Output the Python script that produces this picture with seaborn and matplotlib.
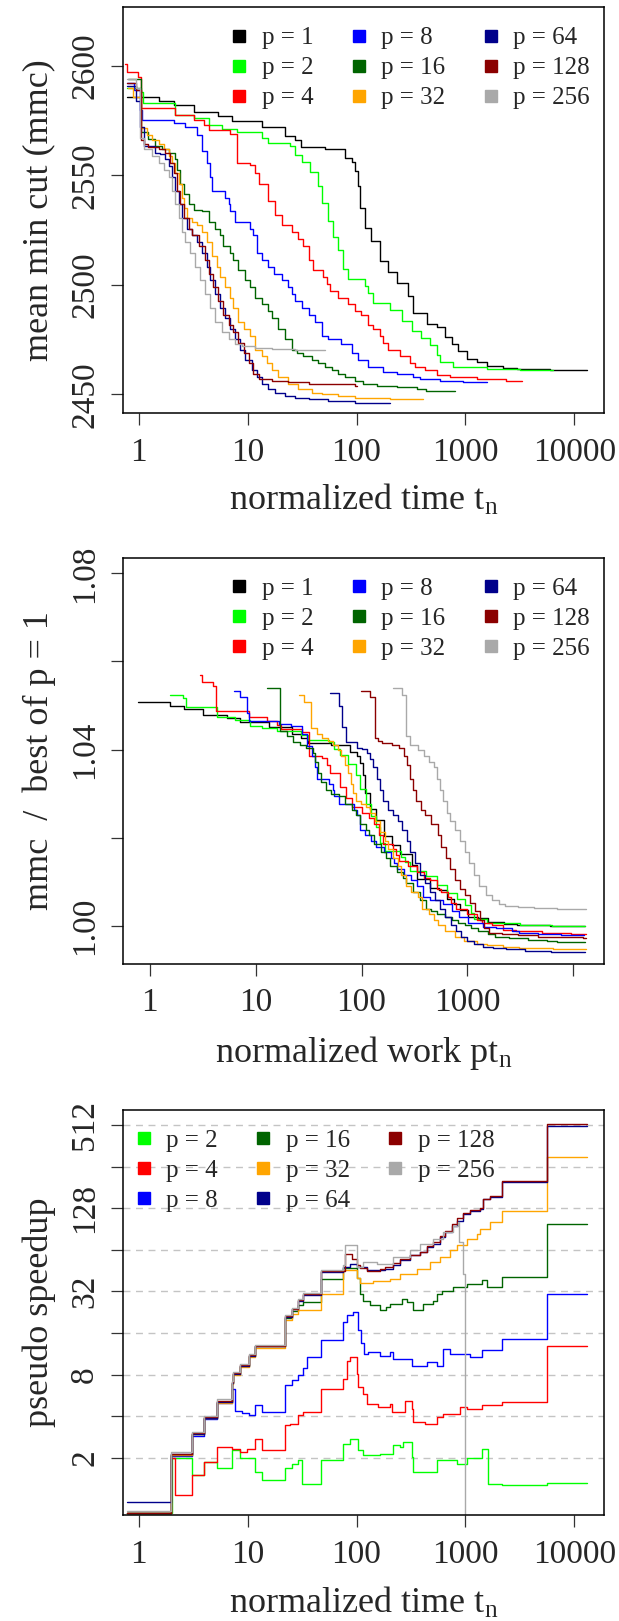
import matplotlib
matplotlib.use("Agg")
import numpy as np
import pandas as pd
import matplotlib.pyplot as plt
import seaborn as sns
from matplotlib.lines import Line2D
from matplotlib.ticker import NullLocator

sns.set_style("white")
plt.rcParams['font.family'] = ['Liberation Serif', 'DejaVu Serif']
plt.rcParams['mathtext.fontset'] = 'custom'
plt.rcParams['mathtext.rm'] = 'Liberation Serif'
plt.rcParams['mathtext.it'] = 'Liberation Serif:italic'

# ---------------------------------------------------------------------------
# panel 1 : mean min cut over normalized time, one step curve per p
procs = [1, 2, 4, 8, 16, 32, 64, 128, 256]
colors = {1: 'black', 2: '#00FF00', 4: '#FF0000', 8: '#0000FF', 16: '#006400',
          32: '#FFA500', 64: '#00008B', 128: '#8B0000', 256: '#A9A9A9'}

t_p1 = [0.78, 1.55, 2.1, 3.2, 5.4, 7.2, 13.5, 22, 27, 31, 51, 78, 90, 96, 103, 107, 119, 137,
        164, 195, 233, 299, 332, 440, 544, 648, 747, 860, 1024, 1267, 1564, 2226, 2952, 5976, 12970]
mmc_p1 = [2586, 2584, 2582, 2579, 2577, 2575, 2572, 2568, 2566, 2563, 2562, 2558, 2556, 2552, 2545, 2535,
          2526, 2520, 2511, 2506, 2501, 2495, 2487, 2482, 2481, 2476, 2473, 2470, 2466, 2465, 2463,
          2462, 2461.5, 2461, 2461]
t_p2 = [0.78, 1.04, 1.1, 2.17, 3.19, 4.38, 5.8, 7.96, 13.5, 15.5, 24.5, 27.2, 31.3, 37.4, 44.6, 47.9,
        55, 61, 68, 75, 84, 119, 128, 142, 202, 259, 320, 395, 472, 544, 583, 773, 1564, 3162, 6412]
mmc_p2 = [2590, 2588, 2583, 2577.6, 2576, 2572.8, 2571.3, 2569.7, 2567.3, 2564.9, 2563.4, 2559.5,
          2556.3, 2551.6, 2545.3, 2537.4, 2529, 2522, 2516, 2507.4, 2502.7, 2499.6, 2496.4, 2491.6,
          2488.5, 2483.7, 2479, 2475.9, 2472.7, 2468, 2464.8, 2462.4, 2461.5, 2461, 2461]
t_p4 = [0.75, 0.78, 0.99, 1.05, 2.17, 3.19, 3.94, 4.38, 6.92, 7.96, 10.6, 11.7, 12.6, 15.5, 17.9, 20.5,
        25.3, 29.2, 32.6, 36.3, 40.1, 49.6, 53.2, 57.1, 68.1, 84.2, 96.9, 111, 128, 142, 164, 176, 195,
        250, 309, 343, 424, 544, 719, 1267, 2383, 3291]
mmc_p4 = [2601, 2597, 2595, 2581, 2577.8, 2575.4, 2573, 2570.7, 2569.1, 2555.7, 2554.9, 2550.9, 2546.2,
          2538.4, 2532.1, 2527.3, 2524.2, 2521, 2517.9, 2511.6, 2506.8, 2503.7, 2500.5, 2497.4, 2494.2,
          2491.1, 2487.9, 2486.3, 2481.6, 2480, 2476.9, 2473.7, 2470.5, 2467.4, 2464.2, 2462.7, 2461.1,
          2458.7, 2457.9, 2457.1, 2456.3, 2456.3]
t_p8 = [0.78, 0.9, 1.03, 1.08, 2.09, 2.68, 3.42, 3.8, 4.23, 4.53, 4.7, 6.22, 6.68, 6.92, 7.69, 10.6,
        11.3, 12.1, 13.5, 15.5, 17.3, 20.5, 23.7, 25.3, 27.2, 31.3, 36.3, 41.5, 47.9, 55.2, 72.8, 90,
        103, 128, 176, 233, 332, 383, 584, 955, 1564]
mmc_p8 = [2592, 2589, 2580, 2575.4, 2573.9, 2572.3, 2568.3, 2561.2, 2555.7, 2549.4, 2543.1, 2539.9,
          2536.8, 2533.6, 2528.9, 2525.7, 2522.6, 2514.7, 2511.6, 2508.4, 2505.2, 2502.1, 2498.9,
          2495.8, 2492.6, 2489.5, 2486.3, 2483.2, 2476.9, 2475.3, 2472.9, 2469, 2465.8, 2462.7,
          2460.3, 2459.5, 2457.9, 2457.1, 2456.3, 2455.6, 2455.6]
t_p16 = [0.8, 1.06, 1.23, 1.42, 1.64, 1.88, 2.17, 2.25, 2.41, 2.58, 2.87, 3.19, 3.8, 4.38, 5.04, 5.6,
         6.0, 6.92, 7.42, 8.24, 9.5, 10.6, 11.7, 13.5, 15.5, 16.6, 19.2, 22.1, 25.3, 28.2, 32.6, 38.7,
         44.6, 51.3, 59, 68, 78, 97, 115, 153, 233, 356, 439, 800]
mmc_p16 = [2594, 2569.9, 2566.8, 2563.6, 2562, 2560.4, 2557.3, 2552.6, 2546.3, 2541.5, 2536.8, 2534.4,
           2533.6, 2528.9, 2525.7, 2522.6, 2517.9, 2514.7, 2511.6, 2506.8, 2502.1, 2498.9, 2494.2,
           2491.1, 2487.9, 2484.7, 2480, 2475.3, 2470.5, 2469, 2467.4, 2465.8, 2464.2, 2462.7, 2461.1,
           2459.5, 2457.9, 2456.3, 2454.8, 2454, 2453.2, 2452.4, 2451.6, 2451.6]
t_p32 = [0.8, 0.89, 1.05, 1.19, 1.33, 1.52, 1.69, 1.88, 2.02, 2.17, 2.32, 2.49, 2.58, 2.77, 3.08, 3.42,
         3.8, 4.23, 4.7, 5.22, 5.6, 6.22, 6.92, 7.42, 8.24, 9.17, 10.6, 11.7, 13.5, 15, 16.6, 19.2,
         23.7, 29.2, 38.7, 47.9, 68, 97, 202, 410]
mmc_p32 = [2590, 2586, 2571.5, 2568.3, 2566, 2564.4, 2562, 2558.9, 2555.7, 2551, 2546.3, 2539.9,
           2535.2, 2530.5, 2528.9, 2527.3, 2524.2, 2519.4, 2513.1, 2508.4, 2503.7, 2498.9, 2494.2,
           2489.5, 2483.2, 2480, 2476.9, 2470.5, 2467.4, 2464.2, 2461.1, 2457.9, 2454.8, 2452.4,
           2450.8, 2450, 2449.3, 2448.5, 2447.7, 2447.7]
t_p64 = [0.78, 0.95, 1.03, 1.11, 1.42, 1.58, 1.75, 1.88, 2.02, 2.17, 2.32, 2.49, 2.77, 3.08, 3.42, 3.8,
         4.23, 4.53, 5.04, 5.6, 6.22, 6.92, 7.69, 8.54, 9.5, 10.9, 12.1, 13.5, 15.5, 17.9, 22.1, 27.2,
         36.3, 55.2, 96.9, 202]
mmc_p64 = [2591, 2584, 2572, 2563.6, 2560.4, 2559.7, 2557.3, 2554.1, 2549.4, 2543.1, 2536.8, 2530.5,
           2525.7, 2522.6, 2519.4, 2514.7, 2508.4, 2502.1, 2495.8, 2489.5, 2484.7, 2480, 2475.3,
           2470.5, 2465.8, 2461.1, 2457.9, 2454.8, 2452.4, 2450.8, 2449.3, 2448.5, 2447.7, 2446.9,
           2446.1, 2446.1]
t_p128 = [0.78, 0.95, 1.04, 1.11, 1.23, 1.52, 1.75, 1.95, 2.09, 2.25, 2.41, 2.58, 2.87, 3.08, 3.55,
          4.08, 4.38, 4.86, 5.4, 6.0, 6.68, 7.42, 8.24, 9.17, 10.2, 11.3, 12.6, 16.6, 23.7, 36.3, 96.9,
          102]
mmc_p128 = [2592, 2589, 2566, 2564.4, 2562.8, 2562, 2560.4, 2555.7, 2551, 2543.1, 2536.8, 2530.5,
            2525.7, 2522.6, 2517.9, 2511.6, 2505.2, 2498.9, 2492.6, 2486.3, 2481.6, 2478.4, 2473.7,
            2469, 2464.2, 2459.5, 2457.1, 2456.3, 2455.6, 2454.8, 2454, 2454]
t_p256 = [0.78, 0.95, 1.035, 1.11, 1.33, 1.52, 1.69, 1.88, 2.02, 2.17, 2.32, 2.49, 2.68, 2.97, 3.3,
          3.67, 4.08, 4.53, 5.04, 5.8, 6.68, 7.69, 8.85, 11.7, 16.6, 27.2, 51.3]
mmc_p256 = [2594, 2590, 2567, 2562, 2558.9, 2555.7, 2552.6, 2549.4, 2543.1, 2536.8, 2530.5, 2524.2,
            2519.4, 2514.7, 2508.4, 2502.1, 2495.8, 2489.5, 2483.2, 2478.4, 2475.3, 2472.9, 2472.1,
            2471.3, 2470.9, 2470.2, 2470.2]

# ---------------------------------------------------------------------------
# panel 3 : pseudo speedup over normalized time (p = 2 .. 256)
t_s2 = [0.78, 2.02, 3.08, 3.94, 5.22, 7.16, 8.54, 11.7, 13.5, 22.1, 25.4, 29.2, 31.3, 47.7, 75.3, 87,
        103, 115, 164, 217, 250, 268, 320, 332, 544, 830, 1024, 1408, 1619, 2148, 5572, 12970]
sp_s2 = [0.8, 1.98, 1.5, 1.87, 1.68, 2.27, 2.0, 1.58, 1.38, 1.68, 1.82, 1.93, 1.3, 1.92, 2.54, 2.76,
         2.27, 2.09, 2.15, 2.47, 2.4, 2.61, 2.03, 1.58, 1.93, 1.82, 1.98, 2.3, 1.3, 1.27, 1.32, 1.32]
t_s4 = [0.78, 2.0, 2.17, 3.08, 3.94, 5.22, 7.16, 8.54, 9.8, 11.7, 13.5, 22.1, 24.5, 29.2, 32.4, 47.7,
        75.3, 82, 88, 100, 104, 115, 124, 158, 202, 210, 278, 320, 332, 424, 544, 625, 889, 1024, 1408,
        2148, 5572, 12970]
sp_s4 = [0.8, 2.0, 1.07, 1.5, 1.87, 2.4, 2.33, 2.2, 2.33, 2.76, 2.27, 3.44, 3.54, 4.07, 4.3, 6.34,
         7.5, 10.0, 10.7, 8.1, 6.5, 5.83, 4.94, 4.67, 4.94, 4.3, 5.2, 4.54, 3.64, 3.54, 3.96, 4.18,
         4.67, 4.54, 4.8, 5.08, 13.0, 13.0]
t_s8 = [0.78, 2.0, 3.08, 3.94, 5.22, 7.16, 7.7, 8.9, 10.2, 11.7, 13.5, 22.1, 25.4, 29.2, 32.4, 35,
        47.7, 75.4, 81, 93, 103, 110, 118, 128, 164, 202, 217, 320, 440, 544, 625, 719, 1100, 1408,
        2148, 5572, 12970]
sp_s8 = [0.8, 2.05, 2.9, 3.8, 5.0, 6.3, 4.4, 4.2, 4.1, 4.8, 4.3, 6.7, 7.3, 8.0, 9.0, 10.8, 14.2,
         19.2, 21.5, 22.7, 16.7, 13.5, 11.3, 11.7, 11.0, 11.7, 10.4, 9.3, 9.9, 9.3, 12.3, 11.3, 10.7,
         12.0, 14.6, 30.8, 30.8]
t_s16 = [0.78, 2.0, 3.08, 3.94, 5.22, 7.16, 7.42, 8.54, 10.2, 11.7, 22.1, 25.4, 29.2, 32.4, 47.7, 75.3,
         100, 107, 115, 133, 164, 188, 202, 259, 288, 332, 410, 506, 544, 604, 773, 1024, 1408, 1564,
         2148, 5572, 12970]
sp_s16 = [0.8, 2.1, 3.0, 3.9, 5.1, 7.0, 8.1, 9.3, 11.0, 12.9, 20.6, 23.0, 25.5, 26.8, 39.5, 47, 40,
          30.8, 27.5, 25.4, 23.3, 24.5, 26.1, 28.3, 26.8, 23.3, 26.1, 27.5, 30.8, 32.5, 34.4, 36.3,
          38.4, 34.4, 40.6, 98.6, 98.6]
t_s32 = [0.78, 2.0, 3.08, 3.94, 5.22, 7.16, 7.42, 8.54, 10.2, 11.7, 22.1, 25.4, 29.2, 47.7, 75.3, 100,
         107, 142, 202, 250, 356, 472, 583, 719, 830, 1024, 1267, 1358, 1679, 2148, 5572, 12970]
sp_s32 = [0.8, 2.1, 3.0, 3.9, 5.0, 6.9, 7.9, 9.1, 10.8, 12.4, 19.8, 22.0, 23.3, 30.8, 46, 40, 37, 38,
          39.5, 42.9, 46.6, 52, 56.6, 63.3, 68.8, 76.9, 84, 90, 101, 123, 302, 302]
t_s64 = [0.78, 1.58, 2.0, 3.08, 3.94, 5.22, 7.16, 7.42, 8.54, 10.2, 11.7, 22.1, 25.4, 29.2, 32.4, 47.7,
         75.3, 86.9, 100, 124, 182, 217, 250, 309, 382, 440, 506, 583, 648, 747, 830, 955, 1100, 1358,
         1458, 1679, 2148, 5572, 12970]
sp_s64 = [0.96, 0.96, 2.15, 3.0, 3.9, 5.1, 7.0, 8.1, 9.3, 11.0, 12.9, 20.9, 23.7, 27.5, 30.3, 44.1,
          48, 50.7, 48, 45.4, 46.6, 49.4, 53.6, 58.3, 61.6, 66.9, 70.7, 79, 85.9, 95.9, 104, 116.5,
          123, 126.6, 149.5, 155.4, 197, 506, 506]
t_s128 = [0.78, 2.0, 3.08, 3.94, 5.22, 7.16, 7.42, 8.54, 10.2, 11.7, 22.1, 25.4, 29.2, 32.4, 47.7,
          78.3, 90, 100, 107, 124, 164, 182, 217, 250, 309, 382, 440, 506, 583, 648, 747, 830, 955,
          1100, 1358, 1458, 1679, 2148, 5572, 12970]
sp_s128 = [0.8, 2.15, 3.05, 3.95, 5.2, 7.1, 8.2, 9.4, 11.1, 13.0, 21.2, 24.0, 27.8, 30.8, 45, 60, 55,
           50, 47, 45, 46.5, 48, 51, 55, 59, 62, 68, 73, 81, 88, 98, 108, 118, 125, 129, 150, 156, 200,
           520, 520]
t_s256 = [0.78, 2.0, 3.08, 3.94, 5.22, 7.16, 7.42, 8.54, 10.2, 11.7, 22.1, 25.4, 29.2, 32.4, 47.7,
          75.3, 78.3, 100, 115, 153, 217, 309, 382, 506, 625, 772, 859, 877, 955, 994]
sp_s256 = [0.82, 2.2, 3.1, 4.0, 5.3, 7.2, 8.3, 9.5, 11.2, 13.2, 21.5, 24.3, 28.2, 31.3, 45.5, 50,
           68.8, 48, 52.1, 50.7, 56.6, 63.3, 70.7, 76.9, 85.9, 95.9, 101, 72.7, 42.9, 0.3]

t_cols = [t_p1, t_p2, t_p4, t_p8, t_p16, t_p32, t_p64, t_p128, t_p256]
mmc_cols = [mmc_p1, mmc_p2, mmc_p4, mmc_p8, mmc_p16, mmc_p32, mmc_p64, mmc_p128, mmc_p256]
sp_t_cols = [t_s2, t_s4, t_s8, t_s16, t_s32, t_s64, t_s128, t_s256]
sp_cols = [sp_s2, sp_s4, sp_s8, sp_s16, sp_s32, sp_s64, sp_s128, sp_s256]

frames = []
for p, t, m in zip(procs, t_cols, mmc_cols):
    frames.append(pd.DataFrame({'t': t, 'mmc': m, 'p': p, 'label': f'p = {p}'}))
df1 = pd.concat(frames, ignore_index=True)
# second panel: work = p * t, quality relative to the best cut of p = 1
best1 = min(mmc_p1)
df1['work'] = df1['t'] * df1['p']
df1['ratio'] = df1['mmc'] / best1

frames = []
for p, t, s in zip(procs[1:], sp_t_cols, sp_cols):
    frames.append(pd.DataFrame({'t': t, 'speedup': s, 'p': p, 'label': f'p = {p}'}))
df3 = pd.concat(frames, ignore_index=True)

pal = {f'p = {p}': colors[p] for p in procs}

# ---------------------------------------------------------------------------
fig = plt.figure(figsize=(6.19, 16.21), dpi=100)
L, W, H = 0.1979, 0.7779, 0.2502
ax1 = fig.add_axes([L, 0.7452, W, H])
ax2 = fig.add_axes([L, 0.4056, W, H])
ax3 = fig.add_axes([L, 0.0651, W, H])

TICK = 24
LAB = 26


def style(ax):
    ax.xaxis.set_minor_locator(NullLocator())
    ax.yaxis.set_minor_locator(NullLocator())
    for s in ax.spines.values():
        s.set_color('black')
        s.set_linewidth(1.1)
    ax.tick_params(axis='both', direction='out', length=8.6, width=0.9, color='#333333',
                   labelsize=TICK, bottom=True, left=True, top=False, right=False)
    ax.tick_params(axis='x', pad=9)
    ax.tick_params(axis='y', pad=7.5, labelrotation=90)
    for lab in ax.get_yticklabels():
        lab.set_va('center')


def add_legend(ax, ps, x0):
    handles = [Line2D([], [], linestyle='none', marker='s', markersize=8.5,
                      markerfacecolor=colors[p], markeredgecolor=colors[p]) for p in ps]
    ax.legend(handles, [f'p = {p}' for p in ps], ncol=3, loc='upper left',
              bbox_to_anchor=(x0, 0.952), frameon=False, fontsize=18, handlelength=0.8,
              handletextpad=0.51, columnspacing=1.4, labelspacing=0.3, borderpad=0,
              borderaxespad=0)


kw = dict(estimator=None, sort=False, drawstyle='steps-post', linewidth=1.0, legend=False,
          hue='label', hue_order=[f'p = {p}' for p in procs], palette=pal)

# panel 1
ax1.set_xscale('log')
sns.lineplot(data=df1, x='t', y='mmc', ax=ax1, **kw)
ax1.set_xlim(0.710, 18740)
ax1.set_ylim(2441.5, 2626.7)
ax1.set_xticks([1, 10, 100, 1000, 10000], ['1', '10', '100', '1000', '10000'])
ax1.set_yticks([2450, 2500, 2550, 2600], ['2450', '2500', '2550', '2600'])
style(ax1)
ax1.set_xlabel(r'normalized time t$_\mathrm{n}$', fontsize=LAB, labelpad=11)
ax1.set_ylabel('mean min cut (mmc)', fontsize=LAB, labelpad=10)
add_legend(ax1, procs, 0.2218)

# panel 2
ax2.set_xscale('log')
sns.lineplot(data=df1, x='work', y='ratio', ax=ax2, **kw)
ax2.set_xlim(0.5535, 19500)
ax2.set_ylim(0.9914, 1.0835)
ax2.set_xticks([1, 10, 100, 1000, 10000], ['1', '10', '100', '1000', ''])
ax2.set_yticks([1.00, 1.02, 1.04, 1.06, 1.08], ['1.00', '', '1.04', '', '1.08'])
style(ax2)
ax2.set_xlabel(r'normalized work pt$_\mathrm{n}$', fontsize=LAB, labelpad=11)
ax2.set_ylabel('mmc  /  best of p = 1', fontsize=LAB, labelpad=10)
add_legend(ax2, procs, 0.2218)

# panel 3
ax3.set_xscale('log')
ax3.set_yscale('log', base=2)
sns.lineplot(data=df3, x='t', y='speedup', ax=ax3, **kw)
ax3.set_xlim(0.710, 18740)
ax3.set_ylim(0.766, 658.6)
ax3.set_xticks([1, 10, 100, 1000, 10000], ['1', '10', '100', '1000', '10000'])
ticks3 = [2 ** k for k in range(1, 10)]
ax3.set_yticks(ticks3, [str(v) if k % 2 == 1 else '' for k, v in zip(range(1, 10), ticks3)])
style(ax3)
ax3.set_axisbelow(True)
ax3.grid(axis='y', color='#C4C4C4', linestyle=(0, (5, 4)), linewidth=1.0)
ax3.grid(axis='x', visible=False)
ax3.set_xlabel(r'normalized time t$_\mathrm{n}$', fontsize=LAB, labelpad=11)
ax3.set_ylabel('pseudo speedup', fontsize=LAB, labelpad=10)
add_legend(ax3, procs[1:], 0.0233)

fig.savefig('out.png', dpi=100)
